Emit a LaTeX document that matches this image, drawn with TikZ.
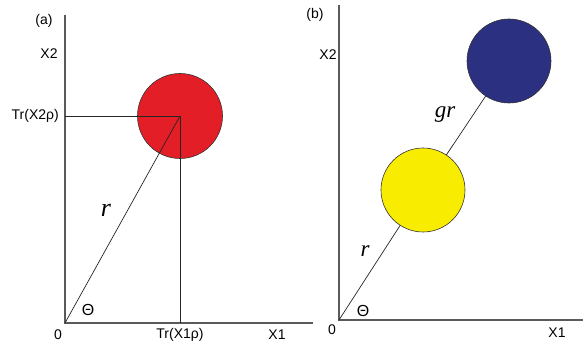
\documentclass[tikz,border=0pt]{standalone}
\usepackage{fontspec}
\setmainfont{Liberation Sans}
\newfontfamily\timesfont{Liberation Serif}
\definecolor{axisgray}{RGB}{90,90,90}
\definecolor{cred}{RGB}{228,30,38}
\definecolor{cyellow}{RGB}{248,236,0}
\definecolor{cblue}{RGB}{44,48,128}
\begin{document}
\begin{tikzpicture}[x=1pt,y=-1pt,
  axis/.style={draw=axisgray,line width=1.1pt},
  thin line/.style={draw=black!85,line width=0.7pt},
  ball/.style={circle,draw=black!80,line width=0.6pt,inner sep=0pt,minimum size=85pt},
  lbl/.style={font=\fontsize{14}{14}\selectfont,inner sep=0pt},
  thlbl/.style={font=\fontsize{16}{16}\selectfont,inner sep=0pt},
  var/.style={font=\timesfont\itshape\fontsize{23}{23}\selectfont,inner sep=0pt}]
\useasboundingbox (0,0) rectangle (584,342);
% ---------- panel (a)
\coordinate (aO) at (65,323);
\coordinate (aTop) at (65,15);
\coordinate (aRight) at (313,323);
\coordinate (aY) at (65,116);
\coordinate (aX) at (180,323);
\node[ball,fill=cred] (red) at (180,116) {};
\draw[axis] (aTop) -- (aO) -- (aRight);
\draw[thin line] (aY) -- (red.center) -- (aX);
\draw[thin line] (aO) -- (red.center);
\node[lbl] (la) at (44,21) {(a)};
\node[lbl] (lax2) at (49,54) {X2};
\node[lbl,anchor=east] (latr2) at (59,116) {Tr(X2ρ)};
\node[var,font=\timesfont\itshape\fontsize{26}{26}\selectfont] (lar) at (106,210) {r};
\node[thlbl] (lath) at (88,310) {Θ};
\node[lbl] (la0) at (58,335) {0};
\node[lbl] (latr1) at (180,335) {Tr(X1ρ)};
\node[lbl] (lax1) at (277,335) {X1};
% ---------- panel (b)
\coordinate (bO) at (339,320);
\coordinate (bTop) at (339,5);
\coordinate (bRight) at (583,320);
\node[ball,fill=cyellow,minimum size=84pt] (yel) at (423,190) {};
\node[ball,fill=cblue,minimum size=84pt] (blu) at (509,61) {};
\draw[axis] (bTop) -- (bO) -- (bRight);
\draw[thin line] (bO) -- (yel);
\draw[thin line] (yel) -- (blu);
\node[lbl] (lb) at (315,15) {(b)};
\node[lbl] (lbx2) at (328,55) {X2};
\node[var] (lbgr) at (445,115) {gr};
\node[var] (lbr) at (365,251) {r};
\node[thlbl] (lbth) at (363,311) {Θ};
\node[lbl] (lb0) at (332,330) {0};
\node[lbl] (lbx1) at (557,333) {X1};
\end{tikzpicture}
\end{document}
